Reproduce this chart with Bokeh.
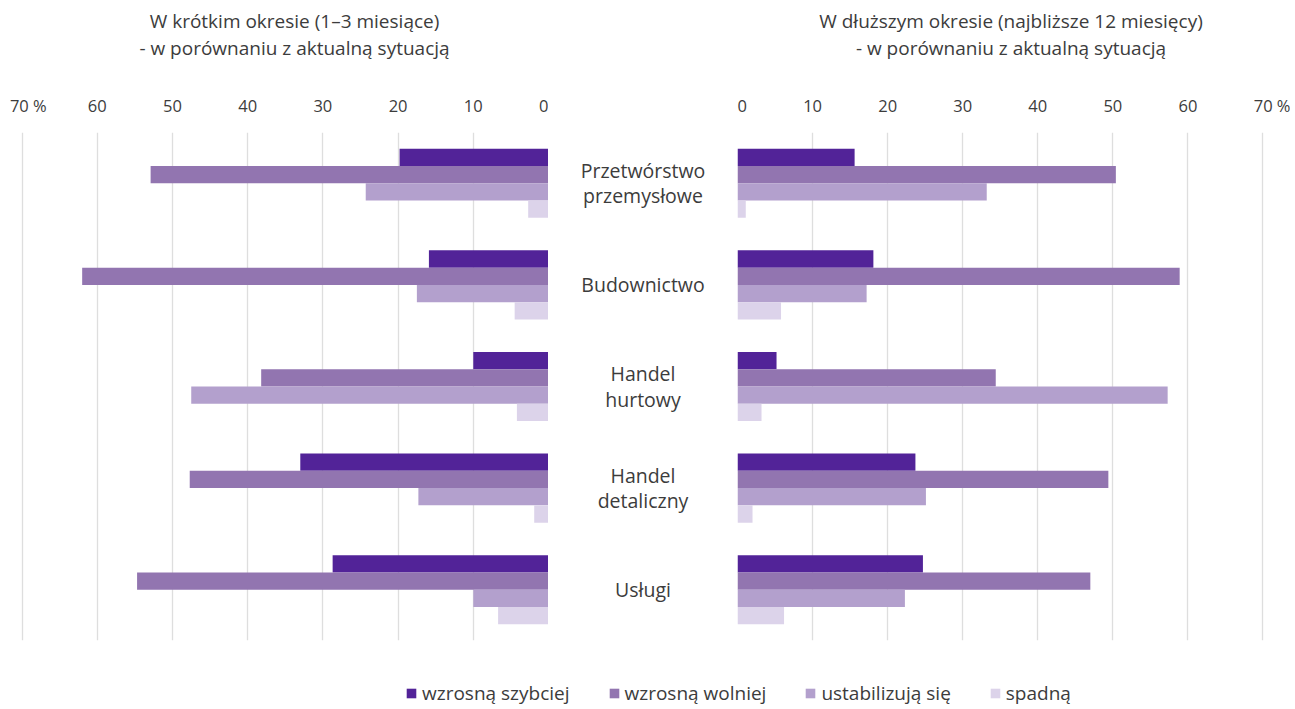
from bokeh.plotting import figure
from bokeh.layouts import row, column
from bokeh.models import (FactorRange, Range1d, FixedTicker, Legend, LegendItem,
                          ColumnDataSource)
from bokeh.transform import dodge
from bokeh.core.properties import value
from bokeh.embed import file_html
from bokeh.resources import INLINE

FONT = "Open Sans"
TXT = "#3c3c3c"

categories = ["Przetwórstwo przemysłowe", "Budownictwo", "Handel hurtowy",
              "Handel detaliczny", "Usługi"]
category_labels = ["Przetwórstwo\nprzemysłowe", "Budownictwo", "Handel\nhurtowy",
                   "Handel\ndetaliczny", "Usługi"]
series = ["wzrosną szybciej", "wzrosną wolniej", "ustabilizują się", "spadną"]
colors = ["#522398", "#9275b0", "#b3a0cd", "#dcd3ea"]

short_szybciej = [19.8, 15.9, 10.0, 33.0, 28.7]
short_wolniej = [52.9, 62.0, 38.2, 47.7, 54.7]
short_stabil = [24.3, 17.5, 47.5, 17.3, 10.0]
short_spadna = [2.7, 4.5, 4.2, 1.9, 6.7]

long_szybciej = [15.6, 18.1, 5.2, 23.7, 24.7]
long_wolniej = [50.4, 58.9, 34.4, 49.4, 47.0]
long_stabil = [33.2, 17.2, 57.3, 25.1, 22.3]
long_spadna = [1.1, 5.8, 3.2, 2.0, 6.2]

ticks = [0, 10, 20, 30, 40, 50, 60, 70]
tick_labels_left = ["0", "10", "20", "30", "40", "50", "60", "\u200770\u00a0%"]
tick_labels_right = ["0", "10", "20", "30", "40", "50", "60", "\u2007\u200770\u00a0%"]

title_short = ["W krótkim okresie (1–3 miesiące)", "- w porównaniu z aktualną sytuacją"]
title_long = ["W dłuższym okresie (najbliższe 12 miesięcy)", "- w porównaniu z aktualną sytuacją"]

# layout constants (pixels)
HEADER_H = 87
TOP = 45
FRAME_H = 508
BOTTOM = 30
LEG_H = 39
LEFT_B, LEFT_W = 20, 528
MID_W = 189
RIGHT_W, RIGHT_B = 527, 26
BAR_H = 0.17
offsets = [0.255, 0.085, -0.085, -0.255]
XMAX = 70.2


def make_panel(vals, reverse, frame_w, bl, br, labels):
    x_range = Range1d(XMAX, 0) if reverse else Range1d(0, XMAX)
    p = figure(x_range=x_range, y_range=FactorRange(*reversed(categories)),
               frame_width=frame_w, frame_height=FRAME_H,
               min_border_left=bl, min_border_right=br,
               min_border_top=TOP, min_border_bottom=BOTTOM,
               x_axis_location="above", y_axis_location=None,
               toolbar_location=None, output_backend="svg",
               outline_line_color=None, background_fill_color="white",
               border_fill_color="white")
    src = ColumnDataSource(dict(cat=categories, v0=vals[0], v1=vals[1], v2=vals[2], v3=vals[3]))
    for i in range(4):
        p.hbar(y=dodge("cat", offsets[i], range=p.y_range), left=0, right="v%d" % i,
               height=BAR_H, source=src, fill_color=colors[i], line_color=None)
    ax = p.xaxis[0]
    ax.ticker = FixedTicker(ticks=ticks)
    ax.major_label_overrides = {t: l for t, l in zip(ticks, labels)}
    ax.axis_line_color = None
    ax.major_tick_line_color = None
    ax.minor_tick_line_color = None
    ax.major_tick_out = 6
    ax.major_tick_in = 0
    ax.major_label_standoff = 10
    ax.major_label_text_font = FONT
    ax.major_label_text_font_size = "16.5px"
    ax.major_label_text_color = TXT
    p.xgrid.ticker = FixedTicker(ticks=ticks)
    p.xgrid.grid_line_color = "#dedede"
    p.xgrid.grid_line_width = 1.3
    p.ygrid.grid_line_color = None
    return p, src


left, src_short = make_panel([short_szybciej, short_wolniej, short_stabil, short_spadna], True,
                             LEFT_W, LEFT_B, 0, tick_labels_left)
right, src_long = make_panel([long_szybciej, long_wolniej, long_stabil, long_spadna], False,
                             RIGHT_W, 0, RIGHT_B, tick_labels_right)

mid = figure(x_range=Range1d(0, 1), y_range=FactorRange(*reversed(categories)),
             frame_width=MID_W, frame_height=FRAME_H,
             min_border_left=0, min_border_right=0,
             min_border_top=TOP, min_border_bottom=BOTTOM,
             toolbar_location=None, output_backend="svg",
             outline_line_color=None, x_axis_location=None, y_axis_location=None)
mid.xgrid.grid_line_color = None
mid.ygrid.grid_line_color = None
msrc = ColumnDataSource(dict(cat=categories, lab=category_labels, xc=[0.5] * len(categories)))
mid.text(x="xc", y="cat", text="lab", source=msrc, text_align="center",
         text_baseline="middle", text_font=value(FONT), text_font_size="19.5px",
         text_line_height=0.94, text_color=TXT)

# header with the two panel titles (x in page pixels)
TOTAL_W = LEFT_B + LEFT_W + MID_W + RIGHT_W + RIGHT_B
header = figure(x_range=Range1d(0, TOTAL_W), y_range=Range1d(0, HEADER_H),
                frame_width=TOTAL_W, frame_height=HEADER_H, min_border=0,
                toolbar_location=None, output_backend="svg", outline_line_color=None,
                x_axis_location=None, y_axis_location=None)
header.xgrid.grid_line_color = None
header.ygrid.grid_line_color = None
lc = LEFT_B + LEFT_W / 2 + 10
rc = LEFT_B + LEFT_W + MID_W + RIGHT_W / 2 + 10
hsrc = ColumnDataSource(dict(x=[lc, lc, rc, rc], y=[HEADER_H - 20, HEADER_H - 47] * 2,
                             t=[title_short[0], title_short[1], title_long[0], title_long[1]]))
header.text(x="x", y="y", text="t", source=hsrc, text_align="center", text_baseline="middle",
            text_font=value(FONT), text_font_size="19px", text_color=TXT)

leg = figure(width=TOTAL_W, height=LEG_H, x_range=Range1d(0, XMAX), y_range=FactorRange(*categories),
             min_border=0, toolbar_location=None, output_backend="svg",
             outline_line_color=None, x_axis_location=None, y_axis_location=None)
leg.xgrid.grid_line_color = None
leg.ygrid.grid_line_color = None
items = []
for i, s in enumerate(series):
    r = leg.hbar(y="cat", left=0, right="v%d" % i, height=BAR_H, source=src_long,
                 fill_color=colors[i], line_color=None, visible=False)
    items.append(LegendItem(label=s, renderers=[r]))
legend = Legend(items=items, orientation="horizontal", location=(405, 3),
                padding=0, margin=0, spacing=38, label_standoff=5,
                glyph_width=12, glyph_height=12, border_line_color=None,
                background_fill_alpha=0, inactive_fill_alpha=0,
                label_text_font=FONT, label_text_font_size="19px", label_text_color=TXT)
leg.add_layout(legend, "center")

layout = column(header, row(left, mid, right, spacing=0), leg, spacing=0)
open("out.html", "w").write(file_html(layout, INLINE))
